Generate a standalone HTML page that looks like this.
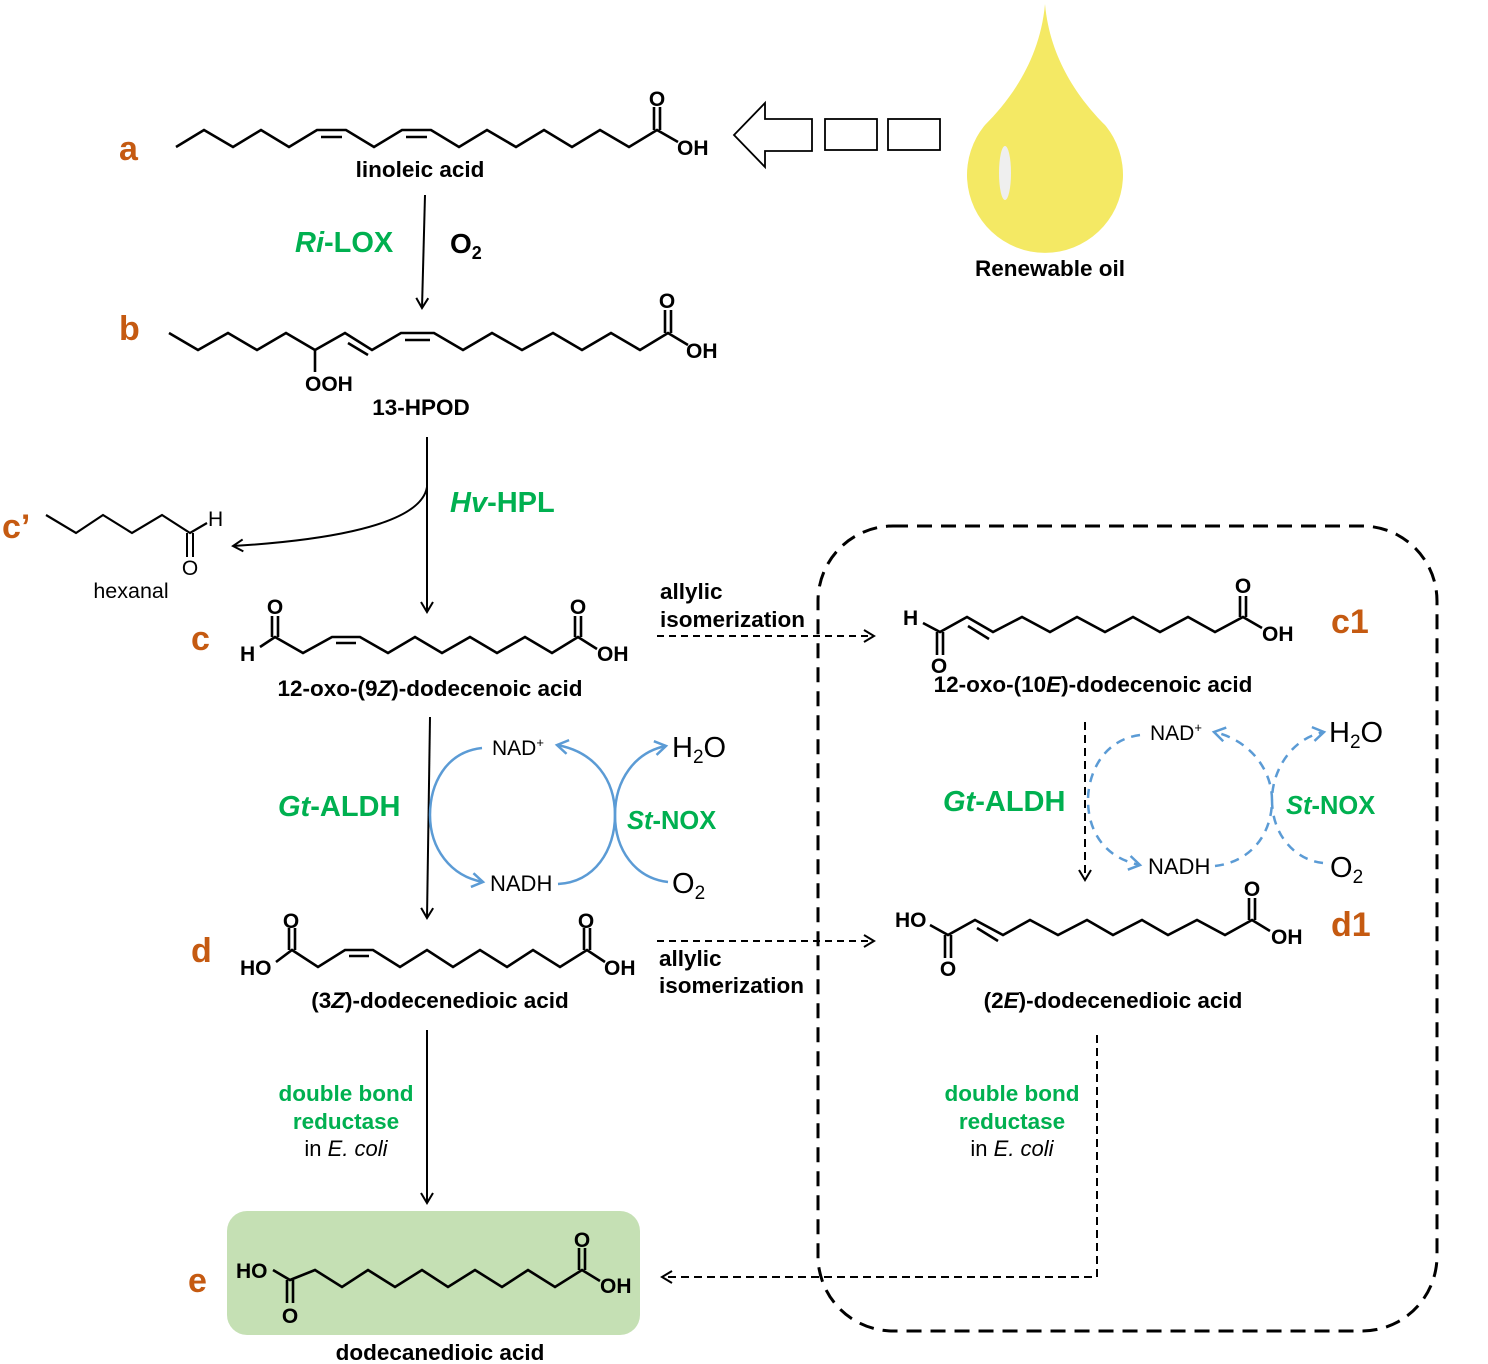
<!DOCTYPE html>
<html><head><meta charset="utf-8"><style>
html,body{margin:0;padding:0;background:#fff;}
svg{display:block;}
text{font-family:"Liberation Sans",Arial,sans-serif;}
.b{font-weight:bold;}
.lab{font-weight:bold;fill:#c55a11;font-size:34px;}
.g{fill:#00b050;font-weight:bold;}
.ch{fill:none;stroke:#000;stroke-width:2.6;stroke-linejoin:miter;}
.ar{fill:none;stroke:#000;stroke-width:2;}
.bl{fill:none;stroke:#5b9bd5;stroke-width:2.5;}
.bd{fill:none;stroke:#5b9bd5;stroke-width:2.5;stroke-dasharray:9 7;}
</style></head><body>
<svg width="1488" height="1364" viewBox="0 0 1488 1364" xmlns="http://www.w3.org/2000/svg">
<defs>
<marker id="ah" markerWidth="14" markerHeight="14" refX="11" refY="7" orient="auto" markerUnits="userSpaceOnUse">
<path d="M1,1 L11,7 L1,13" fill="none" stroke="#000" stroke-width="2"/></marker>
<marker id="bh" markerWidth="16" markerHeight="16" refX="12" refY="8" orient="auto" markerUnits="userSpaceOnUse">
<path d="M1,1 L12,8 L1,15" fill="none" stroke="#5b9bd5" stroke-width="2.5"/></marker>
</defs>

<text class="lab" x="119" y="160">a</text>
<text class="lab" x="119" y="340">b</text>
<text class="lab" x="2" y="538">c’</text>
<text class="lab" x="191" y="650">c</text>
<text class="lab" x="191" y="962">d</text>
<text class="lab" x="188" y="1292">e</text>
<text class="lab" x="1331" y="633">c1</text>
<text class="lab" x="1331" y="936">d1</text>

<!-- a linoleic -->
<polyline class="ch" points="176,147 204,130 233,147 261,130 289,147 317,130 346,130 374,147 402,130 431,130 459,147 487,130 516,147 544,130 572,147 600,130 629,147 657,130 678,142"/>
<line class="ch" x1="321" y1="137" x2="342" y2="137"/>
<line class="ch" x1="406" y1="137" x2="427" y2="137"/>
<line class="ch" x1="654" y1="130" x2="654" y2="107"/><line class="ch" x1="660" y1="130" x2="660" y2="107"/>
<text class="b" x="657" y="106" font-size="21" text-anchor="middle">O</text>
<text class="b" x="677" y="155" font-size="21">OH</text>
<text class="b" x="420" y="177" font-size="22.5" text-anchor="middle">linoleic acid</text>

<line class="ar" x1="425" y1="195" x2="422" y2="308" marker-end="url(#ah)"/>
<text x="295" y="252" font-size="29" class="g"><tspan font-style="italic">Ri</tspan>-LOX</text>
<text class="b" x="450" y="253" font-size="28">O<tspan font-size="18" dy="6">2</tspan></text>

<!-- b 13-HPOD -->
<polyline class="ch" points="169,333 198,350 228,333 257,350 286,333 315,350 345,333 372,350 401,333 434,333 463,350 492,333 522,350 553,333 582,350 611,333 640,350 668,333 688,345"/>
<line class="ch" x1="348" y1="343" x2="368" y2="355"/>
<line class="ch" x1="405" y1="340" x2="430" y2="340"/>
<line class="ch" x1="315" y1="350" x2="315" y2="372"/>
<line class="ch" x1="665" y1="333" x2="665" y2="310"/><line class="ch" x1="671" y1="333" x2="671" y2="310"/>
<text class="b" x="667" y="308" font-size="21" text-anchor="middle">O</text>
<text class="b" x="686" y="358" font-size="21">OH</text>
<text class="b" x="305" y="391" font-size="21">OOH</text>
<text class="b" x="421" y="415" font-size="22.5" text-anchor="middle">13-HPOD</text>

<line class="ar" x1="427" y1="437" x2="427" y2="612" marker-end="url(#ah)"/>
<path class="ar" d="M427,487 C420,530 300,542 233,546" marker-end="url(#ah)"/>
<text x="450" y="512" font-size="29" class="g"><tspan font-style="italic">Hv</tspan>-HPL</text>

<!-- hexanal -->
<polyline class="ch" points="46,515 76,533 103,515 132,533 162,515 190,533 207,523" style="stroke-width:2.2"/>
<line class="ch" x1="187" y1="533" x2="187" y2="557" style="stroke-width:2"/><line class="ch" x1="193" y1="533" x2="193" y2="557" style="stroke-width:2"/>
<text x="208" y="526" font-size="21">H</text>
<text x="190" y="575" font-size="21" text-anchor="middle">O</text>
<text x="131" y="598" font-size="21.5" text-anchor="middle">hexanal</text>

<!-- c -->
<polyline class="ch" points="260,647 275,637 303,653 332,637 360,637 388,653 415,637 442,653 470,637 497,653 525,637 552,653 578,637 597,649"/>
<line class="ch" x1="336" y1="643" x2="356" y2="643"/>
<line class="ch" x1="272" y1="637" x2="272" y2="616"/><line class="ch" x1="278" y1="637" x2="278" y2="616"/>
<line class="ch" x1="575" y1="637" x2="575" y2="616"/><line class="ch" x1="581" y1="637" x2="581" y2="616"/>
<text class="b" x="275" y="614" font-size="21" text-anchor="middle">O</text>
<text class="b" x="578" y="614" font-size="21" text-anchor="middle">O</text>
<text class="b" x="240" y="661" font-size="21">H</text>
<text class="b" x="597" y="661" font-size="21">OH</text>
<text class="b" x="430" y="696" font-size="22.5" text-anchor="middle">12-oxo-(9<tspan font-style="italic">Z</tspan>)-dodecenoic acid</text>

<line class="ar" x1="430" y1="717" x2="427" y2="918" marker-end="url(#ah)"/>
<text x="278" y="816" font-size="29" class="g"><tspan font-style="italic">Gt</tspan>-ALDH</text>
<path class="bl" d="M482,748 C445,752 430,785 430,815 C430,848 450,876 483,882" marker-end="url(#bh)"/>
<path class="bl" d="M558,884 C595,882 615,850 615,815 C615,780 595,752 557,745" marker-end="url(#bh)"/>
<path class="bl" d="M668,882 C635,878 615,850 615,815 C615,780 635,752 666,746" marker-end="url(#bh)"/>
<text x="492" y="755" font-size="21">NAD<tspan font-size="13" dy="-8">+</tspan></text>
<text x="490" y="891" font-size="22">NADH</text>
<text x="672" y="757" font-size="29">H<tspan font-size="19" dy="6">2</tspan><tspan dy="-6">O</tspan></text>
<text x="672" y="893" font-size="29">O<tspan font-size="19" dy="6">2</tspan></text>
<text x="627" y="829" font-size="25.5" class="g"><tspan font-style="italic">St</tspan>-NOX</text>

<!-- d -->
<polyline class="ch" points="276,962 292,950 318,967 345,950 373,950 400,967 427,950 453,967 480,950 507,967 533,950 560,967 587,950 605,962"/>
<line class="ch" x1="349" y1="956" x2="369" y2="956"/>
<line class="ch" x1="289" y1="950" x2="289" y2="928"/><line class="ch" x1="295" y1="950" x2="295" y2="928"/>
<line class="ch" x1="584" y1="950" x2="584" y2="928"/><line class="ch" x1="590" y1="950" x2="590" y2="928"/>
<text class="b" x="291" y="928" font-size="21" text-anchor="middle">O</text>
<text class="b" x="586" y="928" font-size="21" text-anchor="middle">O</text>
<text class="b" x="240" y="975" font-size="21">HO</text>
<text class="b" x="604" y="975" font-size="21">OH</text>
<text class="b" x="440" y="1008" font-size="22.5" text-anchor="middle">(3<tspan font-style="italic">Z</tspan>)-dodecenedioic acid</text>

<line class="ar" x1="427" y1="1030" x2="427" y2="1203" marker-end="url(#ah)"/>
<text x="346" y="1101" font-size="22.5" class="g" text-anchor="middle">double bond</text>
<text x="346" y="1129" font-size="22.5" class="g" text-anchor="middle">reductase</text>
<text x="346" y="1156" font-size="22" text-anchor="middle">in <tspan font-style="italic">E. coli</tspan></text>

<!-- e -->
<rect x="227" y="1211" width="413" height="124" rx="20" fill="#c5e0b4"/>
<polyline class="ch" points="273,1270 290,1280 315,1270 342,1287 368,1270 395,1287 422,1270 448,1287 475,1270 502,1287 528,1270 555,1287 582,1270 600,1281"/>
<line class="ch" x1="287" y1="1280" x2="287" y2="1303"/><line class="ch" x1="293" y1="1280" x2="293" y2="1303"/>
<line class="ch" x1="579" y1="1270" x2="579" y2="1248"/><line class="ch" x1="585" y1="1270" x2="585" y2="1248"/>
<text class="b" x="290" y="1323" font-size="21" text-anchor="middle">O</text>
<text class="b" x="582" y="1247" font-size="21" text-anchor="middle">O</text>
<text class="b" x="236" y="1278" font-size="21">HO</text>
<text class="b" x="600" y="1293" font-size="21">OH</text>
<text class="b" x="440" y="1360" font-size="22.5" text-anchor="middle">dodecanedioic acid</text>

<!-- dashed box -->
<rect x="818" y="526" width="619" height="805" rx="75" fill="none" stroke="#000" stroke-width="3" stroke-dasharray="15 9"/>

<path class="ar" d="M657,636 L874,636" stroke-dasharray="7 5" marker-end="url(#ah)"/>
<text class="b" x="660" y="599" font-size="22.5">allylic</text>
<text class="b" x="660" y="627" font-size="22.5">isomerization</text>
<path class="ar" d="M657,941 L874,941" stroke-dasharray="7 5" marker-end="url(#ah)"/>
<text class="b" x="659" y="966" font-size="22.5">allylic</text>
<text class="b" x="659" y="993" font-size="22.5">isomerization</text>

<!-- c1 -->
<polyline class="ch" points="923,623 940,632 967,617 993,632 1022,617 1050,632 1077,617 1105,632 1133,617 1160,632 1188,617 1215,632 1243,617 1262,628"/>
<line class="ch" x1="968" y1="626" x2="989" y2="639"/>
<line class="ch" x1="937" y1="632" x2="937" y2="655"/><line class="ch" x1="943" y1="632" x2="943" y2="655"/>
<line class="ch" x1="1240" y1="617" x2="1240" y2="596"/><line class="ch" x1="1246" y1="617" x2="1246" y2="596"/>
<text class="b" x="939" y="673" font-size="21" text-anchor="middle">O</text>
<text class="b" x="1243" y="593" font-size="21" text-anchor="middle">O</text>
<text class="b" x="903" y="625" font-size="21">H</text>
<text class="b" x="1262" y="641" font-size="21">OH</text>
<text class="b" x="1093" y="692" font-size="22.5" text-anchor="middle">12-oxo-(10<tspan font-style="italic">E</tspan>)-dodecenoic acid</text>

<path class="ar" d="M1085,722 L1085,880" stroke-dasharray="8 5" marker-end="url(#ah)"/>
<text x="943" y="811" font-size="29" class="g"><tspan font-style="italic">Gt</tspan>-ALDH</text>
<path class="bd" d="M1140,735 C1102,740 1088,775 1088,800 C1088,832 1105,858 1140,865" marker-end="url(#bh)"/>
<path class="bd" d="M1215,866 C1250,862 1272,835 1272,800 C1272,770 1250,740 1214,732" marker-end="url(#bh)"/>
<path class="bd" d="M1323,863 C1295,860 1272,835 1272,800 C1272,770 1292,738 1324,732" marker-end="url(#bh)"/>
<text x="1150" y="740" font-size="21">NAD<tspan font-size="13" dy="-8">+</tspan></text>
<text x="1148" y="874" font-size="22">NADH</text>
<text x="1329" y="742" font-size="29">H<tspan font-size="19" dy="6">2</tspan><tspan dy="-6">O</tspan></text>
<text x="1330" y="877" font-size="29">O<tspan font-size="19" dy="6">2</tspan></text>
<text x="1286" y="814" font-size="25.5" class="g"><tspan font-style="italic">St</tspan>-NOX</text>

<!-- d1 -->
<polyline class="ch" points="930,925 948,935 975,920 1003,935 1030,920 1058,935 1087,920 1113,935 1142,920 1168,935 1197,920 1225,935 1252,920 1270,931"/>
<line class="ch" x1="977" y1="928" x2="998" y2="941"/>
<line class="ch" x1="945" y1="935" x2="945" y2="958"/><line class="ch" x1="951" y1="935" x2="951" y2="958"/>
<line class="ch" x1="1249" y1="920" x2="1249" y2="898"/><line class="ch" x1="1255" y1="920" x2="1255" y2="898"/>
<text class="b" x="948" y="976" font-size="21" text-anchor="middle">O</text>
<text class="b" x="1252" y="896" font-size="21" text-anchor="middle">O</text>
<text class="b" x="895" y="927" font-size="21">HO</text>
<text class="b" x="1271" y="944" font-size="21">OH</text>
<text class="b" x="1113" y="1008" font-size="22.5" text-anchor="middle">(2<tspan font-style="italic">E</tspan>)-dodecenedioic acid</text>

<text x="1012" y="1101" font-size="22.5" class="g" text-anchor="middle">double bond</text>
<text x="1012" y="1129" font-size="22.5" class="g" text-anchor="middle">reductase</text>
<text x="1012" y="1156" font-size="22" text-anchor="middle">in <tspan font-style="italic">E. coli</tspan></text>
<path class="ar" d="M1097,1035 L1097,1277 L662,1277" stroke-dasharray="8 5" marker-end="url(#ah)"/>

<!-- top: arrow + drop -->
<polygon points="734,135 765,103 765,119 812,119 812,151 765,151 765,167" fill="#fff" stroke="#000" stroke-width="1.8"/>
<rect x="825" y="119" width="52" height="31" fill="#fff" stroke="#000" stroke-width="1.8"/>
<rect x="888" y="119" width="52" height="31" fill="#fff" stroke="#000" stroke-width="1.8"/>
<path d="M1045,4 C1040,60 1010,100 985,125 A78 78 0 1 0 1105,125 C1080,100 1050,60 1045,4 Z" fill="#f4e964"/>
<ellipse cx="1005" cy="173" rx="6" ry="27" fill="#efefef"/>
<text class="b" x="1050" y="276" font-size="22.5" text-anchor="middle">Renewable oil</text>
</svg>
</body></html>
